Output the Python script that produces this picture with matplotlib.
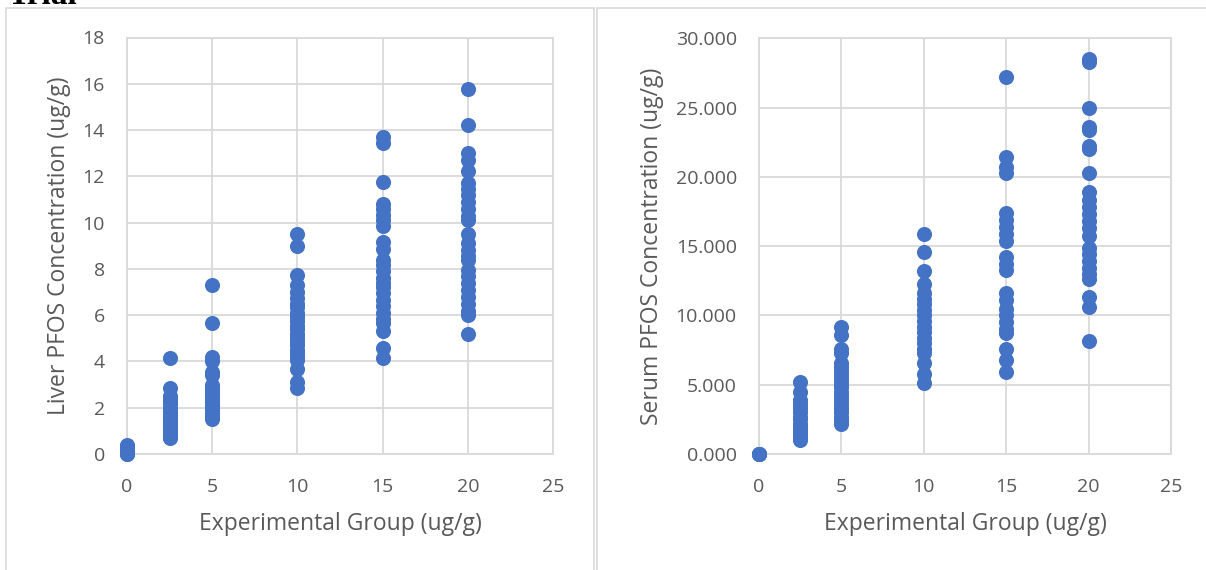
import matplotlib.pyplot as plt
from matplotlib.patches import Rectangle
from matplotlib.ticker import FormatStrFormatter

# dose groups (ug/g)
groups = [0, 2.5, 5, 10, 15, 20]

# liver PFOS per animal, one list per dose group
liver = [
    [0.0, 0.02, 0.05, 0.08, 0.1, 0.12, 0.15, 0.18, 0.2, 0.25, 0.3, 0.35, 0.4],
    [4.15, 2.85, 2.5, 2.4, 2.3, 2.15, 2.0, 1.9, 1.8, 1.7, 1.6, 1.5, 1.4, 1.3,
     1.2, 1.1, 1.0, 0.95, 0.9, 0.8, 0.75, 0.7],
    [7.3, 5.65, 4.2, 4.0, 3.55, 3.4, 3.0, 2.9, 2.75, 2.6, 2.5, 2.4, 2.3, 2.2,
     2.1, 2.0, 1.9, 1.75, 1.6, 1.5],
    [9.5, 9.0, 7.75, 7.3, 7.0, 6.75, 6.5, 6.35, 6.1, 5.9, 5.75, 5.55, 5.4, 5.2,
     5.0, 4.85, 4.7, 4.5, 4.35, 4.2, 4.06, 3.67, 3.1, 2.85],
    [13.7, 13.45, 11.75, 10.8, 10.6, 10.35, 10.1, 9.85, 9.15, 8.85, 8.4, 8.15,
     7.9, 7.6, 7.4, 7.2, 6.95, 6.65, 6.4, 6.1, 5.85, 5.65, 5.3, 4.6, 4.15],
    [15.76, 14.2, 13.0, 12.7, 12.25, 11.7, 11.45, 11.2, 10.9, 10.6, 10.3, 10.1,
     9.5, 9.1, 8.8, 8.55, 8.4, 7.95, 7.7, 7.4, 7.1, 6.8, 6.5, 6.2, 6.0, 5.2],
]

# serum PFOS per animal, one list per dose group
serum = [
    [0.0, 0.0, 0.0, 0.0],
    [5.2, 4.5, 3.9, 3.6, 3.3, 3.0, 2.7, 2.5, 2.2, 2.0, 1.8, 1.6, 1.4, 1.2, 1.0],
    [9.2, 8.6, 7.6, 7.3, 6.6, 6.3, 6.0, 5.7, 5.4, 5.1, 4.8, 4.5, 4.2, 3.9, 3.6,
     3.3, 3.0, 2.7, 2.4, 2.2],
    [15.85, 14.6, 13.2, 12.3, 11.6, 11.2, 10.8, 10.4, 10.0, 9.6, 9.2, 8.8, 8.4,
     8.0, 7.6, 7.3, 6.6, 5.8, 5.15],
    [27.2, 21.4, 20.7, 20.3, 17.4, 16.9, 16.4, 15.9, 15.4, 14.2, 13.7, 13.3,
     11.6, 11.1, 10.5, 10.0, 9.5, 9.0, 8.7, 7.6, 6.8, 5.9],
    [28.5, 28.3, 24.96, 23.6, 23.4, 22.2, 22.0, 20.25, 18.9, 18.3, 17.8, 17.3,
     16.8, 16.3, 15.7, 14.9, 14.4, 13.9, 13.4, 13.0, 12.6, 11.3, 10.6, 8.15],
]

x_ticks = [0, 5, 10, 15, 20, 25]
liver_ticks = [0, 2, 4, 6, 8, 10, 12, 14, 16, 18]
serum_ticks = [0, 5, 10, 15, 20, 25, 30]

blue = '#4472C4'
grid = '#D9D9D9'
txt = '#595959'
plt.rcParams['font.family'] = ['Open Sans', 'DejaVu Sans']

fig = plt.figure(figsize=(12.06, 5.7), dpi=100)

# chart frames
fig.patches.append(Rectangle((6 / 1206, -0.1), 588 / 1206, 1.1 - 8.5 / 570,
                             transform=fig.transFigure, fill=False,
                             edgecolor=grid, linewidth=1.2))
fig.patches.append(Rectangle((597 / 1206, -0.1), 620 / 1206, 1.1 - 8.5 / 570,
                             transform=fig.transFigure, fill=False,
                             edgecolor=grid, linewidth=1.2))
fig.text(0.006, 1 - 4.5 / 570, 'Trial', family='Liberation Serif', weight='bold',
         fontsize=24, va='baseline', ha='left')


def draw(ax, data, yticks, ylabel, fmt):
    for g, vals in zip(groups, data):
        ax.scatter([g] * len(vals), vals, s=118, color=blue, linewidths=0,
                   zorder=3, clip_on=False)
    ax.set_xlim(0, 25)
    ax.set_ylim(yticks[0], yticks[-1])
    ax.set_xticks(x_ticks)
    ax.set_yticks(yticks)
    ax.yaxis.set_major_formatter(FormatStrFormatter(fmt))
    ax.grid(True, color=grid, linewidth=1.3)
    ax.set_axisbelow(True)
    for s in ax.spines.values():
        s.set_color(grid)
        s.set_linewidth(1.3)
    ax.tick_params(length=0, labelsize=14, colors=txt)
    ax.tick_params(axis='x', pad=17.5)
    ax.tick_params(axis='y', pad=16)
    ax.set_xlabel('Experimental Group (ug/g)', fontsize=16.5, color=txt,
                  labelpad=11)
    ax.set_ylabel(ylabel, fontsize=16.5, color=txt, labelpad=8)


ax1 = fig.add_axes([127 / 1206, 1 - 454 / 570, 426 / 1206, 416.5 / 570])
draw(ax1, liver, liver_ticks, 'Liver PFOS Concentration (ug/g)', '%d')

ax2 = fig.add_axes([759 / 1206, 1 - 454 / 570, 412 / 1206, 415.7 / 570])
draw(ax2, serum, serum_ticks, 'Serum PFOS Concentration (ug/g)', '%.3f')

fig.savefig('out.png', dpi=100)
